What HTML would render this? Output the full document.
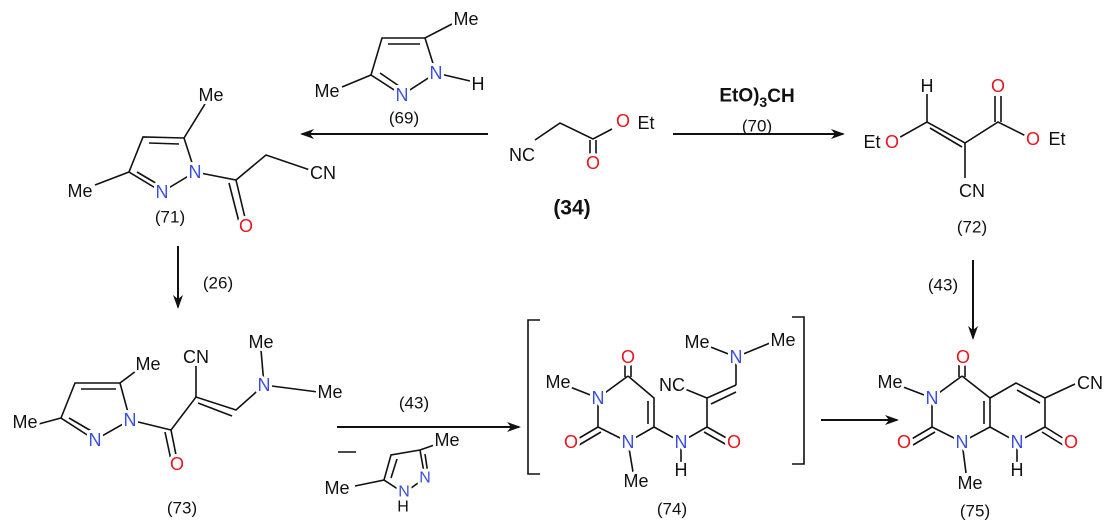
<!DOCTYPE html>
<html><head><meta charset="utf-8"><style>
html,body{margin:0;padding:0;background:#fff;}
svg{display:block;}
text{font-family:"Liberation Sans",sans-serif;font-size:18px;text-anchor:middle;dominant-baseline:central;fill:#111;}
.a{paint-order:stroke;stroke:#fff;stroke-width:6px;stroke-linejoin:round;}
.N{fill:#3a4fe0;}
.O{fill:#e8141e;}
.l{font-size:17px;}
line,polyline{stroke:#111;stroke-width:1.6;fill:none;}
.ar{stroke-width:2;}
</style></head><body>
<svg width="1114" height="528" viewBox="0 0 1114 528" xmlns="http://www.w3.org/2000/svg">
<defs><marker id="h" markerWidth="14" markerHeight="10" refX="12" refY="5" orient="auto" markerUnits="userSpaceOnUse"><path d="M0,0 L14,5 L0,10 L4,5 Z" fill="#111"/></marker></defs>

<!-- (69) -->
<polyline points="452,24 425,38 382,38 371,75 402,95 436,73 425,38"/>
<line x1="388" y1="44" x2="420" y2="44"/>
<line x1="380" y1="73" x2="399" y2="86"/>
<line x1="371" y1="75" x2="342" y2="87"/>
<line x1="436" y1="73" x2="470" y2="81"/>
<text x="466" y="19" class="a">Me</text>
<text x="327" y="91" class="a">Me</text>
<text x="402" y="95" class="a N">N</text>
<text x="436" y="73" class="a N">N</text>
<text x="478" y="84" class="a">H</text>
<text x="404" y="118" class="l">(69)</text>
<line class="ar" x1="488" y1="134" x2="302" y2="134" marker-end="url(#h)"/>

<!-- (34) -->
<polyline points="535,140 560,123 593,139 612,129"/>
<line x1="590" y1="140" x2="590" y2="156"/>
<line x1="596" y1="140" x2="596" y2="156"/>
<text x="522" y="155" class="a">NC</text>
<text x="593" y="163" class="a O">O</text>
<text x="623" y="121" class="a O">O</text>
<text x="646" y="123">Et</text>
<text x="572" y="208" style="font-size:21px;font-weight:bold">(34)</text>

<!-- arrow 70 -->
<text x="757" y="96" style="font-size:19px;font-weight:bold">EtO)<tspan dy="6" style="font-size:14px">3</tspan><tspan dy="-6">CH</tspan></text>
<text x="757" y="126" class="l">(70)</text>
<line class="ar" x1="673" y1="134" x2="843" y2="134" marker-end="url(#h)"/>

<!-- (72) -->
<line x1="927" y1="94" x2="927" y2="122"/>
<polyline points="895,140 927,122 965,143 998,122 1030,138"/>
<line x1="930" y1="128" x2="962" y2="147"/>
<line x1="995" y1="96" x2="995" y2="122"/>
<line x1="1001" y1="96" x2="1001" y2="122"/>
<line x1="965" y1="143" x2="965" y2="178"/>
<text x="927" y="86">H</text>
<text x="998" y="86" class="O">O</text>
<text x="872" y="142">Et</text>
<text x="892" y="142" class="a O">O</text>
<text x="1033" y="139" class="a O">O</text>
<text x="1057" y="139">Et</text>
<text x="972" y="191">CN</text>
<text x="972" y="227" class="l">(72)</text>
<line class="ar" x1="973" y1="260" x2="973" y2="338" marker-end="url(#h)"/>
<text x="943" y="285" class="l">(43)</text>

<!-- (71) -->
<polyline points="205,104 184,138 143,137 129,172 162,192 195,172 184,138"/>
<line x1="149" y1="143" x2="179" y2="144"/>
<line x1="137" y1="172" x2="159" y2="185"/>
<line x1="129" y1="172" x2="95" y2="185"/>
<polyline points="195,172 236,180 266,155 310,170"/>
<line x1="236" y1="180" x2="246" y2="222"/>
<line x1="229" y1="183" x2="239" y2="222"/>
<text x="211" y="95" class="a">Me</text>
<text x="80" y="191" class="a">Me</text>
<text x="162" y="192" class="a N">N</text>
<text x="195" y="172" class="a N">N</text>
<text x="246" y="226" class="a O">O</text>
<text x="323" y="173" class="a">CN</text>
<text x="170" y="217" class="l">(71)</text>
<line class="ar" x1="178" y1="246" x2="178" y2="307" marker-end="url(#h)"/>
<text x="218" y="283" class="l">(26)</text>

<!-- (73) -->
<polyline points="140,368 120,383 75,383 61,418 95,440 130,420 120,383"/>
<line x1="81" y1="389" x2="116" y2="389"/>
<line x1="69" y1="418" x2="93" y2="432"/>
<line x1="61" y1="418" x2="35" y2="425"/>
<polyline points="130,420 171,430 196,397 236,410 264,385"/>
<line x1="198" y1="403" x2="232" y2="416"/>
<line x1="171" y1="430" x2="177" y2="460"/>
<line x1="165" y1="432" x2="171" y2="460"/>
<line x1="196" y1="397" x2="196" y2="366"/>
<line x1="264" y1="385" x2="261" y2="350"/>
<line x1="264" y1="385" x2="318" y2="392"/>
<text x="148" y="364" class="a">Me</text>
<text x="25" y="422" class="a">Me</text>
<text x="95" y="440" class="a N">N</text>
<text x="130" y="420" class="a N">N</text>
<text x="177" y="464" class="a O">O</text>
<text x="196" y="357" class="a">CN</text>
<text x="264" y="385" class="a N">N</text>
<text x="261" y="342" class="a">Me</text>
<text x="330" y="392" class="a">Me</text>
<text x="182" y="508" class="l">(73)</text>

<!-- arrow 43 -->
<text x="414" y="403" class="l">(43)</text>
<line class="ar" x1="337" y1="427" x2="519" y2="427" marker-end="url(#h)"/>
<line x1="338" y1="452" x2="356" y2="452"/>
<polyline points="440,443 420,450 391,455 384,480 404,493 425,478 420,450"/>
<line x1="397" y1="459" x2="391" y2="478"/>
<line x1="425" y1="454" x2="428" y2="474"/>
<line x1="384" y1="480" x2="355" y2="486"/>
<text x="447" y="440" class="a">Me</text>
<text x="337" y="488" class="a">Me</text>
<text x="425" y="478" class="a N" style="font-size:16px">N</text>
<text x="404" y="492" class="a N" style="font-size:16px">N</text>
<text x="403" y="507" style="font-size:16px">H</text>

<!-- brackets -->
<polyline points="540,320 528,320 528,474 540,474"/>
<polyline points="792,317 804,317 804,464 792,464"/>

<!-- (74) -->
<line x1="625" y1="362" x2="625" y2="377"/>
<line x1="631" y1="362" x2="631" y2="377"/>
<polyline points="628,376 598,398 598,427 628,442 654,427 654,398 628,376"/>
<line x1="648" y1="401" x2="648" y2="424"/>
<line x1="598" y1="398" x2="565" y2="385"/>
<line x1="598" y1="427" x2="576" y2="440"/>
<line x1="601" y1="432" x2="579" y2="445"/>
<line x1="628" y1="442" x2="633" y2="472"/>
<polyline points="654,427 681,442 707,427 707,398 680,387"/>
<line x1="707" y1="427" x2="730" y2="440"/>
<line x1="704" y1="432" x2="727" y2="445"/>
<line x1="681" y1="442" x2="681" y2="462"/>
<line x1="707" y1="398" x2="736" y2="385"/>
<line x1="711" y1="404" x2="736" y2="392"/>
<line x1="736" y1="385" x2="736" y2="357"/>
<line x1="736" y1="357" x2="703" y2="344"/>
<line x1="736" y1="357" x2="770" y2="343"/>
<text x="628" y="357" class="a O">O</text>
<text x="598" y="398" class="a N">N</text>
<text x="558" y="382" class="a">Me</text>
<text x="571" y="442" class="a O">O</text>
<text x="628" y="442" class="a N">N</text>
<text x="636" y="481" class="a">Me</text>
<text x="681" y="442" class="a N">N</text>
<text x="681" y="470" class="a">H</text>
<text x="734" y="442" class="a O">O</text>
<text x="672" y="385" class="a">NC</text>
<text x="736" y="357" class="a N">N</text>
<text x="697" y="342" class="a">Me</text>
<text x="783" y="340" class="a">Me</text>
<text x="672" y="509" class="l">(74)</text>

<line class="ar" x1="821" y1="420" x2="897" y2="420" marker-end="url(#h)"/>

<!-- (75) -->
<line x1="959" y1="362" x2="959" y2="377"/>
<line x1="965" y1="362" x2="965" y2="377"/>
<polyline points="962,376 932,398 932,427 962,442 990,427 990,398 962,376"/>
<line x1="984" y1="401" x2="984" y2="424"/>
<polyline points="990,398 1016,383 1045,398 1045,427 1017,442 990,427"/>
<line x1="1017" y1="390" x2="1040" y2="403"/>
<line x1="1045" y1="398" x2="1075" y2="384"/>
<line x1="1045" y1="427" x2="1066" y2="440"/>
<line x1="1042" y1="432" x2="1063" y2="445"/>
<line x1="1017" y1="442" x2="1017" y2="462"/>
<line x1="932" y1="398" x2="898" y2="385"/>
<line x1="932" y1="427" x2="910" y2="440"/>
<line x1="935" y1="432" x2="913" y2="445"/>
<line x1="962" y1="442" x2="966" y2="473"/>
<text x="963" y="357" class="a O">O</text>
<text x="932" y="398" class="a N">N</text>
<text x="890" y="382" class="a">Me</text>
<text x="904" y="442" class="a O">O</text>
<text x="962" y="442" class="a N">N</text>
<text x="970" y="483" class="a">Me</text>
<text x="1017" y="442" class="a N">N</text>
<text x="1017" y="470" class="a">H</text>
<text x="1071" y="442" class="a O">O</text>
<text x="1090" y="383" class="a">CN</text>
<text x="975" y="511" class="l">(75)</text>
</svg>
</body></html>
